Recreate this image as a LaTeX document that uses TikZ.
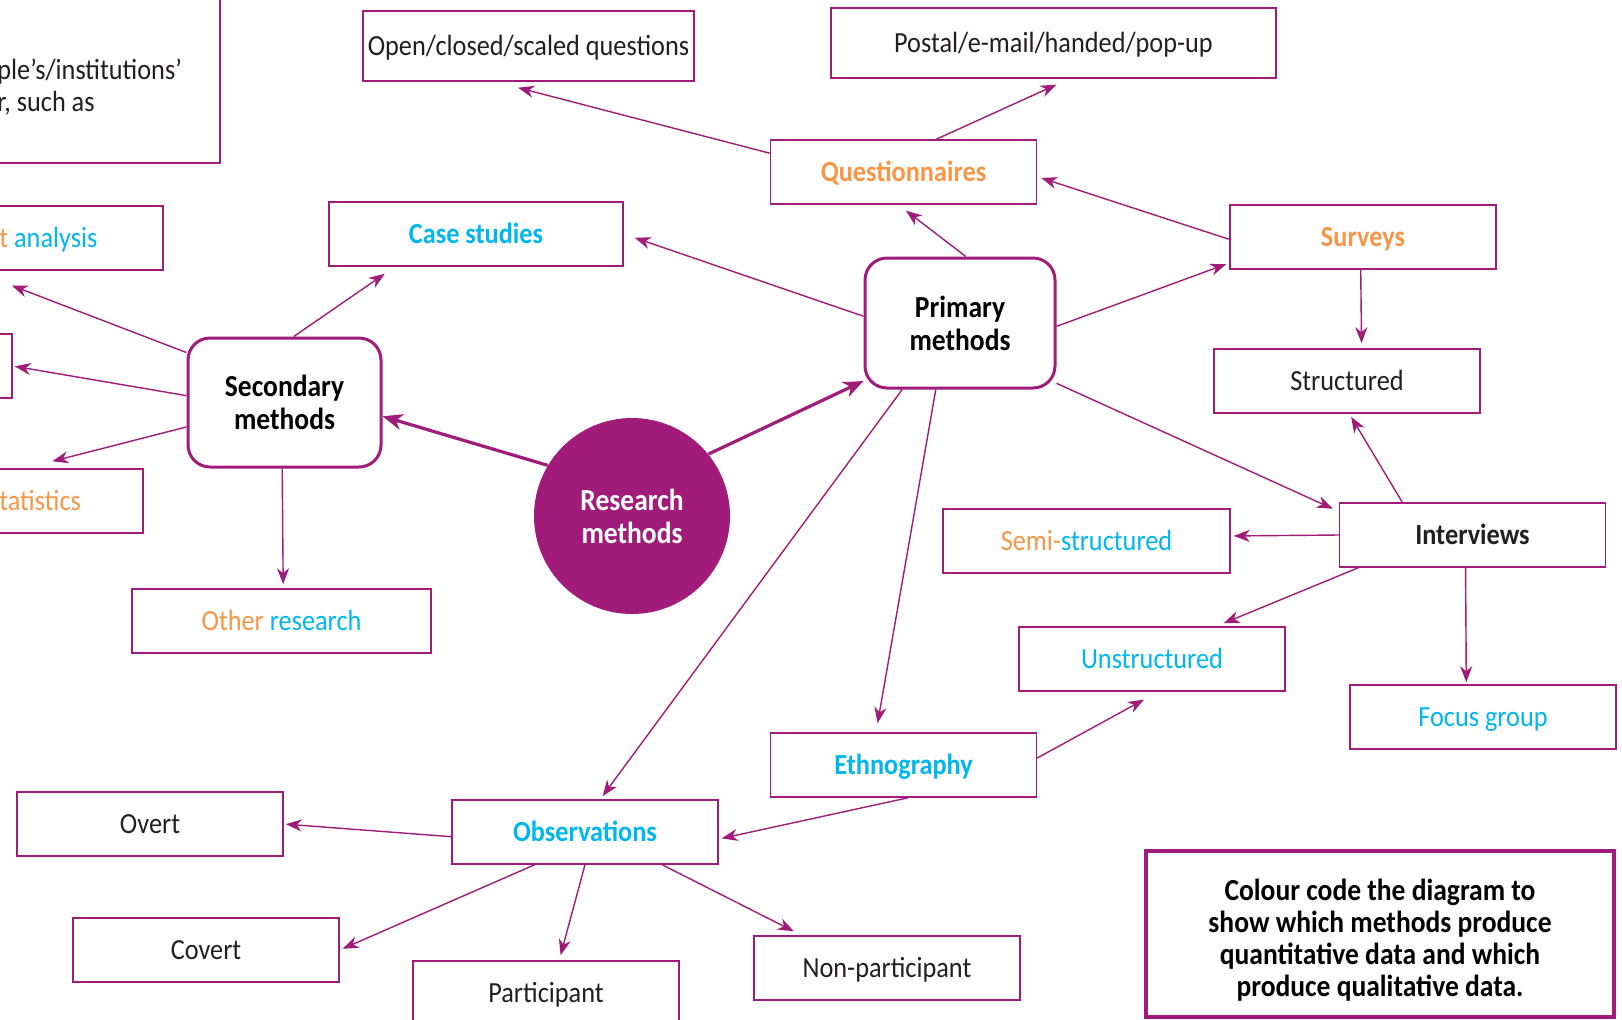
\documentclass[tikz,border=0pt]{standalone}
\usepackage{fontspec}
\setmainfont{Carlito}[FakeStretch=0.9]
\usetikzlibrary{arrows.meta}

\definecolor{rmpurple}{HTML}{A01B7A}
\definecolor{rmorange}{HTML}{F79646}
\definecolor{rmcyan}{HTML}{00B6EF}
\definecolor{rmtext}{HTML}{231F20}

\tikzset{
  box/.style={draw=rmpurple, line width=0.75pt, minimum width=133pt, minimum height=32pt,
    inner sep=0pt, text=rmtext, text height=1.15em, text depth=.22em, font=\fontsize{14.6}{17}\selectfont},
  hub/.style={draw=rmpurple, line width=1.5pt, rounded corners=11pt, inner sep=0pt,
    align=center, text=black, font=\bfseries\fontsize{15.3}{16.5}\selectfont},
  cut/.style={anchor=west, inner sep=0pt, font=\fontsize{14.6}{16}\selectfont},
  link/.style={rmpurple, line width=0.7pt, -{Stealth[length=8pt, width=6pt, inset=2.5pt]}},
  mainlink/.style={rmpurple, line width=1.6pt, -{Stealth[length=10pt, width=8pt, inset=3pt]}},
}

\begin{document}
\begin{tikzpicture}[x=0.5pt, y=-0.5pt]
  \fill[white] (0,0) rectangle (1622,1019);
  \useasboundingbox (0,0) rectangle (1622,1019);

  % boxes cut off at the left edge
  \node [draw=rmpurple, line width=1.4pt, minimum width=170pt, minimum height=95pt] (intro) at (50,68) {};
  \node [cut, align=left, text=rmtext] (introtxt) at (-3,87) {ple’s/institutions’\\r, such as};
  \node [box] (content) at (30,238) {};
  \node [cut, text height=1.15em, text depth=.22em] (contenttxt) at (-1,238) {\textcolor{rmorange}{t} \textcolor{rmcyan}{analysis}};
  \node [box] (midleft) at (-121,366) {};
  \node [box] (stat) at (10,501) {};
  \node [cut, text height=1.15em, text depth=.22em, text=rmorange] (stattxt) at (-1,501) {tatistics};

  % centre and hubs
  \node [circle, fill=rmpurple, minimum size=98pt, inner sep=0pt, align=center, text=white,
    font=\bfseries\fontsize{15.3}{16.5}\selectfont] (research) at (632,516) {Research\\methods};
  \node [hub, minimum width=96.5pt, minimum height=64.5pt] (second) at (284.5,402.5) {Secondary\\methods};
  \node [hub, minimum width=95pt, minimum height=65pt] (prim) at (960,323) {Primary\\methods};

  % secondary side
  \node [box, minimum width=147pt] (case) at (476,234) {\textbf{\textcolor{rmcyan}{Case studies}}};
  \node [box, minimum width=149.5pt] (other) at (281.5,621) {\textcolor{rmorange}{Other} \textcolor{rmcyan}{research}};

  % primary side
  \node [box, minimum width=165.5pt, minimum height=35pt] (openq) at (528.5,46) {Open/closed/scaled questions};
  \node [box, minimum width=222.5pt, minimum height=35pt] (postal) at (1053.5,43) {Postal/e-mail/handed/pop-up};
  \node [box] (quest) at (903.5,172) {\textbf{\textcolor{rmorange}{Questionnaires}}};
  \node [box] (surveys) at (1363,237) {\textbf{\textcolor{rmorange}{Surveys}}};
  \node [box] (struct) at (1347,381) {Structured};
  \node [box] (interv) at (1472.5,535) {\textbf{Interviews}};
  \node [box, minimum width=143.5pt] (semi) at (1086.5,541) {\textcolor{rmorange}{Semi-}\textcolor{rmcyan}{structured}};
  \node [box, text=rmcyan] (unstr) at (1152,659) {Unstructured};
  \node [box, text=rmcyan] (focus) at (1483,717) {Focus group};
  \node [box] (ethno) at (903.5,765) {\textbf{\textcolor{rmcyan}{Ethnography}}};
  \node [box] (obs) at (585,832) {\textbf{\textcolor{rmcyan}{Observations}}};
  \node [box] (overt) at (150,824) {Overt};
  \node [box] (covert) at (206,950) {Covert};
  \node [box] (partic) at (546,993) {Participant};
  \node [box] (nonpart) at (887,968) {Non-participant};

  % task
  \node [draw=rmpurple, line width=2.4pt, minimum width=234pt, minimum height=83pt, align=center,
    font=\bfseries\fontsize{15.3}{16}\selectfont] (task) at (1380,934)
    {\rule{0pt}{16.5pt}Colour code the diagram to\\show which methods produce\\quantitative data and which\\produce qualitative data.};

  \draw [mainlink] (research.149) -- (second.-8);
  \draw [mainlink] (research.39) -- (prim.-149);

  \foreach \from/\to/\gap in {prim.176/case.east/5.8pt, prim.85/quest.-99/4.8pt,
      prim.-2/surveys.-169/1.6pt, prim.-32/interv.170/3.3pt, prim.-110/ethno.130/4.6pt,
      prim.-131/obs.65/1.9pt, quest.172/openq.-133/11.8pt, quest.45/postal.-66/7.1pt,
      surveys.-179/quest.-2/2.1pt, surveys.-94/struct.66/2.5pt, interv.155/struct.-86/1.8pt,
      interv.180/semi.2/1.5pt, interv.-164/unstr.27/4pt, interv.-102/focus.117/1pt,
      ethno.3/unstr.-79/8.2pt, ethno.-82/obs.-3/1.5pt, obs.-178/overt.east/1pt,
      obs.-147/covert.east/1.6pt, obs.south/partic.68/2.6pt, obs.-23/nonpart.159/4.4pt,
      second.82/case.-158/6.2pt, second.153/content.-150/20.6pt, second.176/midleft.east/1pt,
      second.-166/stat.65/14pt, second.-92/other.87/2pt}
    \draw [link, shorten >=\gap] (\from) -- (\to);
\end{tikzpicture}
\end{document}
